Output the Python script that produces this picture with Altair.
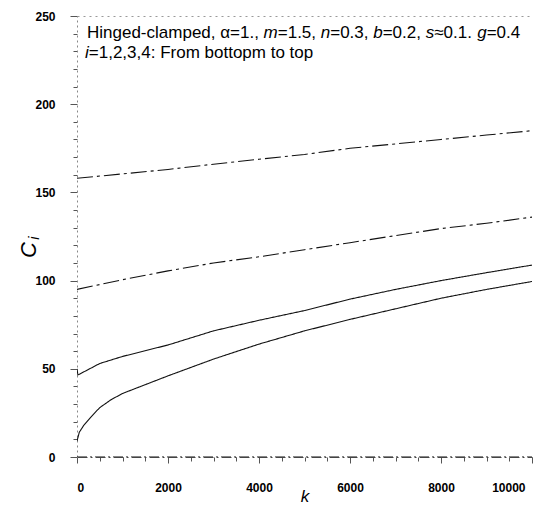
import altair as alt
import pandas as pd

# ---- data ----
k1 = [0, 50, 150, 300, 500, 750, 1000, 1500, 2000, 3000, 4000, 5000, 6000, 7000, 8000, 9000, 10000]
c1 = [9, 14, 18, 22.5, 28, 32.5, 36, 41, 46, 55.5, 64, 71.5, 78, 84, 90, 95, 99.5]
k2 = [0, 20, 500, 1000, 2000, 3000, 4000, 5000, 6000, 7000, 8000, 9000, 10000]
c2 = [50, 46.5, 53, 57, 63.5, 71.5, 77.5, 83, 89.5, 95, 100, 104.5, 108.8]
k3 = [0, 1000, 2000, 3000, 4000, 5000, 6000, 7000, 8000, 9000, 10000]
c3 = [95, 100.5, 105.5, 110, 113.5, 117.5, 121.5, 125.5, 129.5, 132.5, 136]
k4 = [0, 1000, 2000, 3000, 4000, 5000, 6000, 7000, 8000, 9000, 10000]
c4 = [158, 160.5, 163, 166, 168.8, 171.5, 175, 177.5, 180, 182.5, 185]
k0 = [0, 10000]
c0 = [0, 0]

x_ticks = list(range(0, 10001, 500))
y_ticks = list(range(0, 251, 10))

line1 = [("Hinged-clamped, \u03b1=1., ", "normal"), ("m", "italic"), ("=1.5, ", "normal"),
         ("n", "italic"), ("=0.3, ", "normal"), ("b", "italic"), ("=0.2, ", "normal"),
         ("s", "italic"), ("\u22480.1. ", "normal"), ("g", "italic"), ("=0.4", "normal")]
line2 = [("i", "italic"), ("=1,2,3,4: From bottopm to top", "normal")]

FONT = "Liberation Sans"
W, H = 455, 441

# Arial / Liberation Sans advance widths (per 1000 em)
AW = {'H': 722, 'i': 222, 'n': 556, 'g': 556, 'e': 556, 'd': 556, '-': 333, 'c': 500, 'l': 222,
      'a': 556, 'm': 833, 'p': 556, ',': 278, ' ': 278, '\u03b1': 578, '=': 584, '1': 556,
      '.': 278, '5': 556, '0': 556, '3': 556, 'b': 556, '2': 556, 's': 500, '\u2248': 584,
      '4': 556, ':': 278, 'F': 611, 'r': 333, 'o': 556, 't': 278}

FS = 17


def segs(parts, x0, y0):
    rows = []
    x = x0
    for txt, style in parts:
        rows.append({"t": txt, "px": x, "py": y0, "style": style})
        x += sum(AW.get(ch, 556) for ch in txt) * FS / 1000.0
    return rows


ann = pd.DataFrame(segs(line1, 10, 22) + segs(line2, 8, 42))

rows = []
for name, ks, cs in [("0", k0, c0), ("1", k1, c1), ("2", k2, c2), ("3", k3, c3), ("4", k4, c4)]:
    for k, c in zip(ks, cs):
        rows.append({"k": k, "C": c, "i": name})
df = pd.DataFrame(rows)

xscale = alt.Scale(domain=[0, 10000], nice=False, zero=False)
yscale = alt.Scale(domain=[0, 250], nice=False, zero=False)

base = alt.Chart(df)

lines = base.mark_line(strokeWidth=1.1, clip=True).encode(
    x=alt.X("k:Q", scale=xscale, axis=alt.Axis(
        values=x_ticks, title="k", titleFontStyle="italic", titleFontSize=17,
        titleFont=FONT, titleFontWeight="normal", titlePadding=-5,
        labelExpr="datum.value % 2000 === 0 ? datum.label : ''", labelOverlap=False,
        labelOffset={"condition": {"test": "datum.value === 10000", "value": -7}, "value": 0},
        labelFont=FONT, labelFontWeight="bold", labelFontSize=12, labelColor="black",
        labelPadding=19, tickSize={"condition": {"test": "datum.value % 2000 === 0", "value": 6}, "value": 4},
        tickColor="#555", domainColor="#444", domainDash=[10, 3, 2, 3], grid=False, format="d")),
    y=alt.Y("C:Q", scale=yscale, axis=alt.Axis(
        values=y_ticks, title=None,
        labelExpr="datum.value % 50 === 0 ? datum.label : ''", labelOverlap=False,
        labelFont=FONT, labelFontWeight="bold", labelFontSize=12, labelColor="black",
        labelPadding=15, tickSize={"condition": {"test": "datum.value % 50 === 0", "value": 7}, "value": 4},
        tickColor="#555", domainColor="#888", domainDash=[2, 3], grid=False, format="d")),
    detail="i:N",
    strokeDash=alt.StrokeDash("i:N", scale=alt.Scale(domain=["0", "1", "2", "3", "4"],
                                                       range=[[10, 3, 2, 3], [1, 0], [1, 0],
                                                              [16, 4, 3, 4], [16, 4, 3, 4]]),
                              legend=None),
    color=alt.value("#111"),
)

# invisible copy that carries a dotted top frame line as a second x axis
topaxis = base.mark_line(opacity=0).encode(
    x=alt.X("k:Q", scale=xscale, axis=alt.Axis(orient="top", labels=False, ticks=False, title=None,
                                                domainColor="#999", domainDash=[2, 4], grid=False)),
    y=alt.Y("C:Q", scale=yscale, axis=None),
    detail="i:N",
)

ann_n = alt.Chart(ann).transform_filter(alt.datum.style == "normal").mark_text(
    align="left", baseline="alphabetic", font=FONT, fontSize=FS, color="black").encode(
    x=alt.X("px:Q", scale=None), y=alt.Y("py:Q", scale=None), text="t:N")
ann_i = alt.Chart(ann).transform_filter(alt.datum.style == "italic").mark_text(
    align="left", baseline="alphabetic", font=FONT, fontSize=FS, fontStyle="italic", color="black").encode(
    x=alt.X("px:Q", scale=None), y=alt.Y("py:Q", scale=None), text="t:N")

ylab = pd.DataFrame({"t": ["C", "i"], "px": [-48, -43], "py": [234, 222]})
ytitle_c = alt.Chart(ylab).transform_filter(alt.datum.t == "C").mark_text(
    angle=270, align="center", baseline="middle", font=FONT, fontSize=22, fontStyle="italic",
    color="black").encode(x=alt.X("px:Q", scale=None), y=alt.Y("py:Q", scale=None), text="t:N")
ytitle_i = alt.Chart(ylab).transform_filter(alt.datum.t == "i").mark_text(
    angle=270, align="center", baseline="middle", font=FONT, fontSize=15, fontStyle="italic",
    color="black").encode(x=alt.X("px:Q", scale=None), y=alt.Y("py:Q", scale=None), text="t:N")

chart = alt.layer(lines, topaxis, ann_n, ann_i, ytitle_c, ytitle_i).resolve_axis(
    x="independent", y="independent"
).properties(
    width=W, height=H,
    autosize=alt.AutoSizeParams(type="none"),
    padding={"left": 69, "top": 8, "right": 11, "bottom": 49},
    background="white",
).configure_view(stroke=None)

chart.save("out.html", embed_options={"renderer": "svg", "actions": False})
